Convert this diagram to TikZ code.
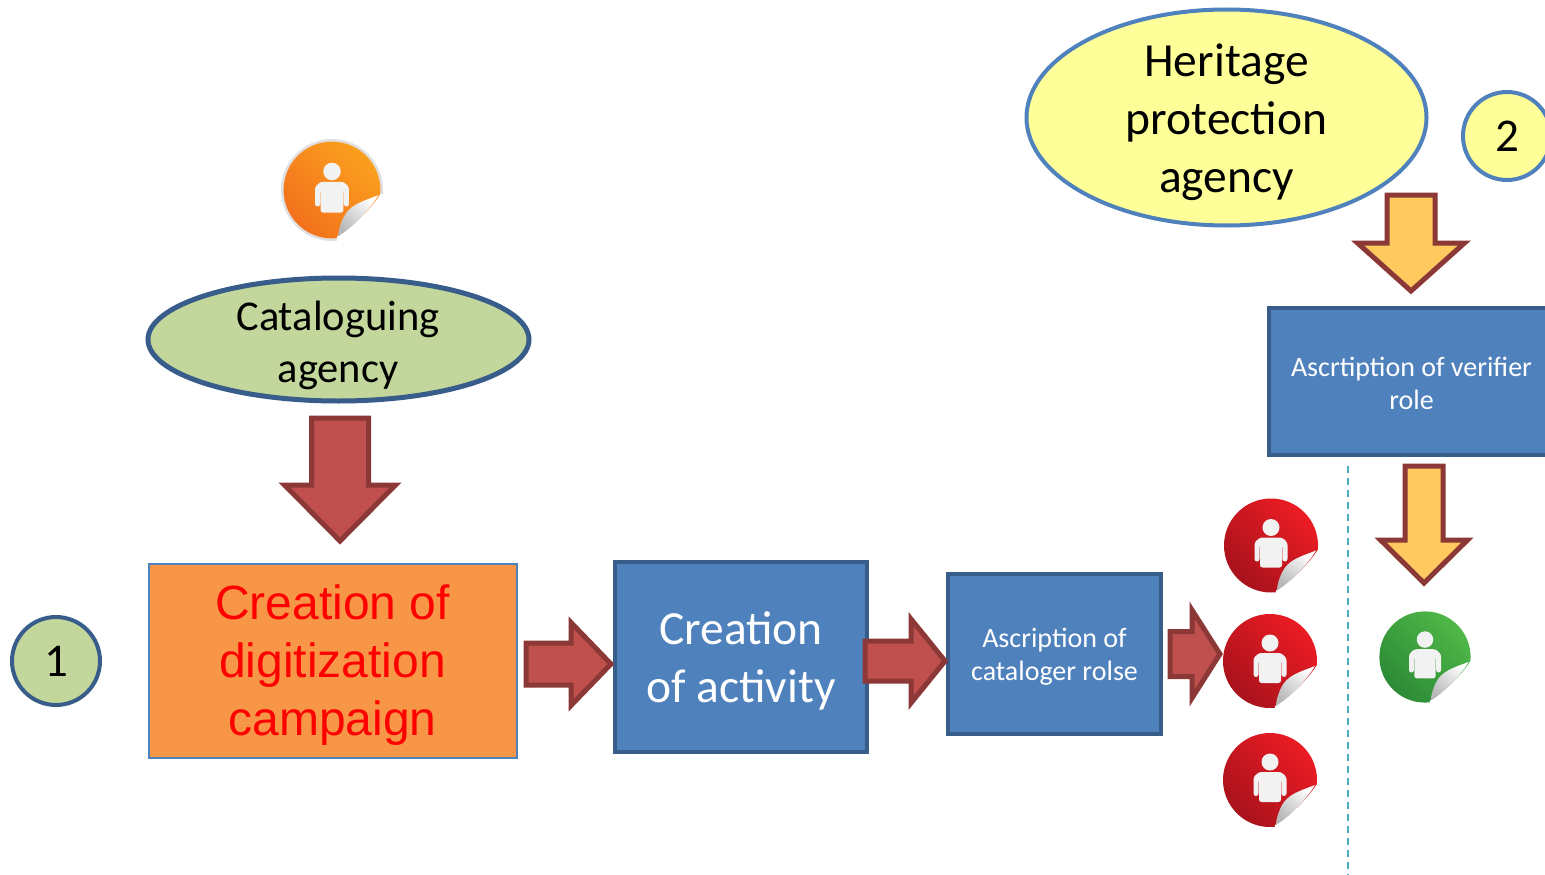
\documentclass[tikz,border=0pt]{standalone}
\usepackage{fontspec}
\setmainfont{Carlito}
\newfontfamily\arialfont{Liberation Sans}
\usetikzlibrary{shapes.geometric}
\definecolor{bluefill}{HTML}{4F81BD}
\definecolor{bluedark}{HTML}{385D8A}
\definecolor{redfill}{HTML}{C0504D}
\definecolor{redline}{HTML}{8C3836}
\definecolor{yellowfill}{HTML}{FFC95F}
\definecolor{palegreen}{HTML}{C3D69B}
\definecolor{paleyellow}{HTML}{FFFF99}
\definecolor{orangefill}{HTML}{F79646}
\definecolor{dashcol}{HTML}{4BACC6}
\definecolor{redA}{HTML}{EC1C24}
\definecolor{redB}{HTML}{A8121C}
\definecolor{greenA}{HTML}{50B848}
\definecolor{greenB}{HTML}{2C8A36}
\definecolor{orangeA}{HTML}{FBA01E}
\definecolor{orangeB}{HTML}{F2711C}
\tikzset{
  x=1pt,y=-1pt,
  txt/.style={align=center,inner sep=0pt,text=black},
  bluebox/.style={draw=bluedark,fill=bluefill,line width=4pt,inner sep=0pt,text=white,align=center},
  redarrow/.style={draw=redline,fill=redfill,line width=5pt,miter limit=10},
  yelarrow/.style={draw=redline,fill=yellowfill,line width=5pt,miter limit=10},
}
% name, style, rotation, tip x, tip y, length, head width, shaft width, head length
\newcommand\blockarrow[9]{%
  \coordinate (#1) at (#4,#5);
  \draw[#2,shift={(#1)},rotate=#3]
    (0,0) -- (-#9,#7/2) -- (-#9,#8/2) -- (-#6,#8/2) -- (-#6,-#8/2) -- (-#9,-#8/2) -- (-#9,-#7/2) -- cycle;}
% name, x, y, scale, light, dark
\newcommand\sticker[6]{%
  \begin{scope}[shift={(#2,#3)},scale=#4]
    \coordinate (#1) at (0,0);
    \shade[left color=#5,right color=#6,shading angle=-45] (0,0) circle[radius=47];
    \fill[white] (47,4) -- (62,4) -- (62,62) -- (4,62) -- (5,45) .. controls (20,36) and (36,20) .. (45,7) -- cycle;
    \shade[top color=white,bottom color=black!28,shading angle=-40]
      (45,5) .. controls (30,11) and (17,14) .. (11,27) .. controls (8,33) and (6,40) .. (6,45)
      .. controls (20,36) and (36,20) .. (45,5) -- cycle;
    \fill[white!95!black] (0,-18) circle[radius=8.5];
    \fill[white!95!black,rounded corners=2.5pt]
      (-11,-8) -- (11,-8) -- (16.5,-3) -- (16.5,16) -- (11.5,16) -- (11.5,-1) -- (11,-1) -- (11,22) -- (-11,22) -- (-11,-1) -- (-11.5,-1) -- (-11.5,16) -- (-16.5,16) -- (-16.5,-3) -- cycle;
  \end{scope}}
\begin{document}
\begin{tikzpicture}
\useasboundingbox (0,0) rectangle (1545,875);
\clip (0,0) rectangle (1545,875);
\fill[white] (0,0) rectangle (1545,875);

% dashed separator
\coordinate (dashtop) at (1348,466);
\coordinate (dashbot) at (1348,875);
\draw[dashcol,line width=2pt,dash pattern=on 7pt off 5pt] (dashtop) -- (dashbot);

% ellipses and circles
\node[ellipse,draw=bluefill,fill=paleyellow,line width=4pt,minimum width=400pt,minimum height=216pt,inner sep=0pt] (heritage) at (1226.5,117.5) {};
\node[txt,font=\fontsize{47.5}{58}\selectfont] (heritagetxt) at (1226.5,122) {Heritage\\protection\\agency};
\node[ellipse,draw=bluedark,fill=palegreen,line width=5pt,minimum width=381pt,minimum height=123pt,inner sep=0pt] (catalog) at (338.5,339.5) {};
\node[txt,font=\fontsize{42.5}{52}\selectfont] (catalogtxt) at (338,345) {Cataloguing\\agency};
\node[circle,draw=bluedark,fill=palegreen,line width=4pt,minimum size=88pt,inner sep=0pt,font=\fontsize{47}{50}\selectfont] (one) at (56,661) {1};
\node[circle,draw=bluefill,fill=paleyellow,line width=4pt,minimum size=88pt,inner sep=0pt,font=\fontsize{47}{50}\selectfont] (two) at (1507,136) {2};

% boxes
\node[draw=bluefill,fill=orangefill,line width=2pt,minimum width=368pt,minimum height=194pt,inner sep=0pt,
  align=center,text=red,text depth=0pt,font=\arialfont\fontsize{48}{58}\selectfont] (campaign) at (333,661) {};
\node[txt,text=red,font=\arialfont\fontsize{48}{58}\selectfont] (campaigntxt) at (332.5,665) {Creation of\\digitization\\campaign};
\node[bluebox,minimum width=252pt,minimum height=190pt] (activity) at (741,657) {};
\node[txt,text=white,font=\fontsize{47.5}{58}\selectfont] (activitytxt) at (741,661) {Creation\\of activity};
\node[bluebox,minimum width=213pt,minimum height=160pt] (cataloger) at (1054.5,654) {};
\node[txt,text=white,font=\fontsize{28}{33}\selectfont] (catalogertxt) at (1054.5,657) {Ascription of\\cataloger rolse};
\node[bluebox,minimum width=284pt,minimum height=147pt] (verifier) at (1411,381.5) {};
\node[txt,text=white,font=\fontsize{28}{33}\selectfont] (verifiertxt) at (1411.5,383) {Ascrtiption of verifier\\role};

% block arrows
\blockarrow{a1}{redarrow}{-90}{340}{541}{123}{111}{57}{56}
\blockarrow{a2}{redarrow}{0}{611}{664}{85}{83}{42}{40}
\blockarrow{a3}{redarrow}{0}{945}{661}{80}{84}{40}{34}
\blockarrow{a4}{redarrow}{0}{1220}{654}{50}{88}{45}{28}
\blockarrow{a5}{yelarrow}{-90}{1411}{291}{96}{107}{48}{48}
\blockarrow{a6}{yelarrow}{-90}{1424}{583}{117}{87}{38}{43}

% stickers
\draw[black!12,line width=3pt] (332,190) circle[radius=49.5];
\sticker{orange}{332}{190}{1.03}{orangeA}{orangeB}
\sticker{red1}{1271}{545.5}{1}{redA}{redB}
\sticker{red2}{1270}{661}{1}{redA}{redB}
\sticker{red3}{1270}{780}{1}{redA}{redB}
\sticker{green}{1425}{657}{0.97}{greenA}{greenB}
\end{tikzpicture}
\end{document}
